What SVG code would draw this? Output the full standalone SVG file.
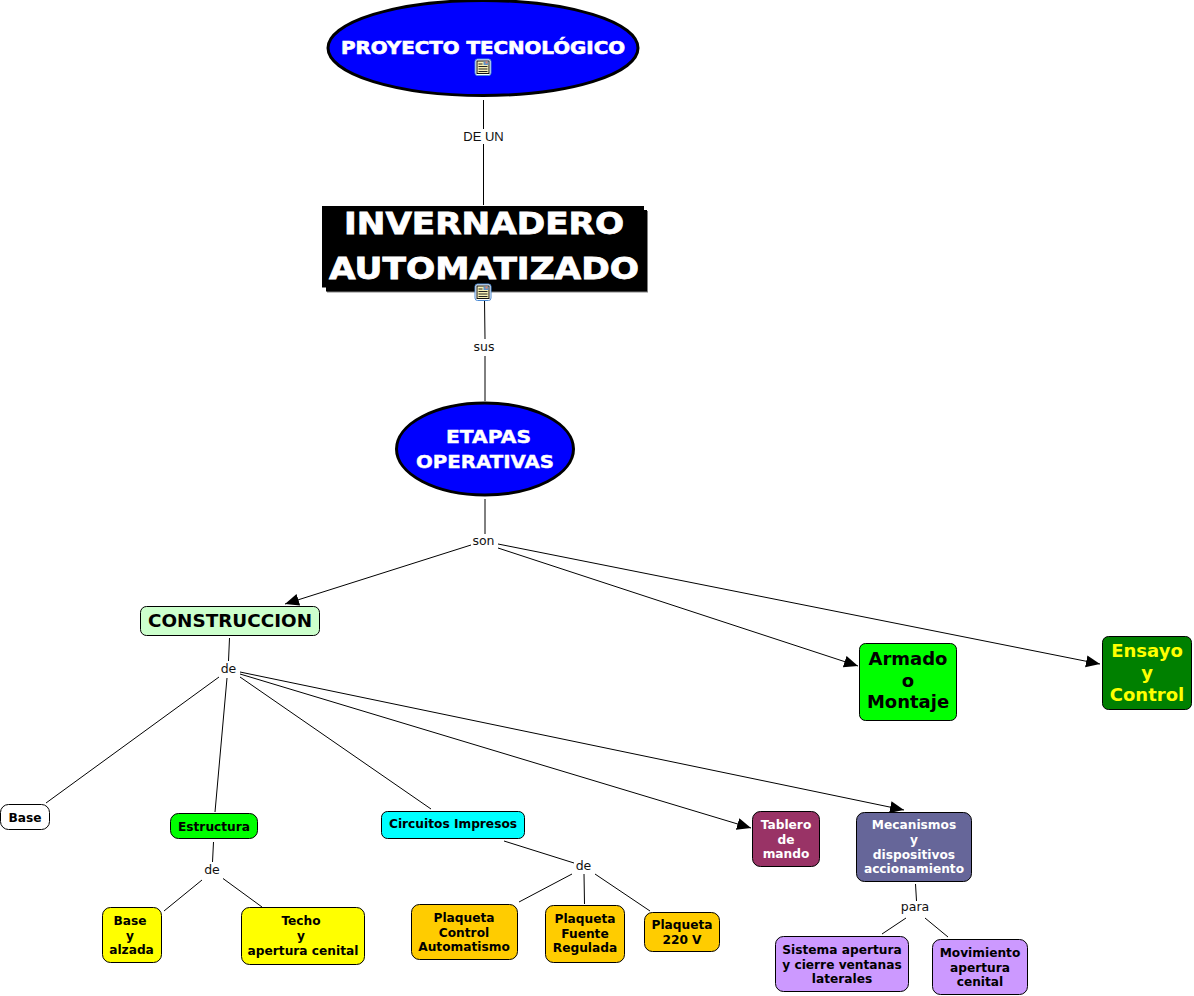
<svg xmlns="http://www.w3.org/2000/svg" width="1194" height="996" viewBox="0 0 1194 996">
<style>
text{font-family:"DejaVu Sans",Verdana,sans-serif;text-anchor:middle}
.b{font-weight:bold}
.s{font-size:12.2px}
.n{stroke:#000;stroke-width:1}
.l{font-size:12.5px;fill:#111}
#links line{stroke:#000;stroke-width:1;fill:none}
</style>
<defs>
<marker id="arr" markerUnits="userSpaceOnUse" markerWidth="16" markerHeight="14" refX="14" refY="6" orient="auto"><path d="M0 0L14 6L0 12Z" fill="#000"/></marker>
<g id="doc"><rect x="0.500" y="0.500" width="16" height="16.500" rx="2.500" fill="#fff" stroke="#4a8ad4"/><rect x="2.500" y="2.500" width="12" height="12.500" fill="#f7f0b4" stroke="#111"/><path d="M4 5.500H8M4 8H13M4 10.500H13M4 13H13" stroke="#222" stroke-width="1"/><rect x="9" y="3" width="5" height="3.500" fill="#5f93c9"/><rect x="11" y="3" width="2" height="2" fill="#e9866a"/></g>
</defs>
<g id="links">
<line x1="483.500" y1="100" x2="483.500" y2="129"/><line x1="483.500" y1="144" x2="483.500" y2="205"/>
<line x1="484.500" y1="300" x2="485" y2="339"/><line x1="485" y1="356" x2="485" y2="401"/>
<line x1="485" y1="499" x2="485" y2="534"/>
<line x1="471" y1="545" x2="285" y2="604" marker-end="url(#arr)"/>
<line x1="498" y1="548" x2="858" y2="666" marker-end="url(#arr)"/>
<line x1="498" y1="544" x2="1100" y2="664" marker-end="url(#arr)"/>
<line x1="229.500" y1="638" x2="228.500" y2="661"/>
<line x1="219" y1="677" x2="46" y2="803"/>
<line x1="227" y1="678" x2="215" y2="812"/>
<line x1="240" y1="677" x2="431" y2="809"/>
<line x1="240" y1="674" x2="751" y2="828" marker-end="url(#arr)"/>
<line x1="240" y1="672" x2="904" y2="810" marker-end="url(#arr)"/>
<line x1="213.500" y1="842" x2="212.500" y2="862"/>
<line x1="202" y1="880" x2="164" y2="911"/>
<line x1="223" y1="878.500" x2="262" y2="907"/>
<line x1="504" y1="841" x2="574" y2="863"/>
<line x1="572" y1="874" x2="519" y2="902"/>
<line x1="584" y1="874" x2="584.500" y2="904"/>
<line x1="595" y1="874" x2="650" y2="911"/>
<line x1="915.500" y1="884" x2="916.500" y2="901"/>
<line x1="906" y1="918" x2="882" y2="934"/>
<line x1="925" y1="918" x2="948" y2="937"/>
</g>
<g class="lbls">
<text class="l" x="483.500" y="141" style="font-family:'Liberation Sans',Arial,sans-serif;font-size:13px">DE UN</text>
<text class="l" x="484" y="351">sus</text>
<text class="l" x="483.500" y="545">son</text>
<text class="l" x="228.500" y="673">de</text>
<text class="l" x="212" y="874">de</text>
<text class="l" x="583.500" y="870">de</text>
<text class="l" x="915" y="911">para</text>
</g>
<g id="proyecto"><ellipse cx="483" cy="48" rx="155" ry="47.500" fill="#0000ff" stroke="#000" stroke-width="3"/>
<text class="b" x="483" y="54" font-size="18" fill="#fff" stroke="#fff" stroke-width=".7" textLength="284" lengthAdjust="spacingAndGlyphs">PROYECTO TECNOLÓGICO</text><use href="#doc" x="474.500" y="58.500"/></g>
<g id="invernadero"><rect x="327" y="211" width="321" height="81.500" fill="#808080"/><rect x="326" y="210" width="321" height="81.500" fill="#000"/><rect x="322" y="206" width="322" height="81.500" fill="#000"/>
<text class="b" x="484" y="234" font-size="30" fill="#fff" stroke="#fff" stroke-width=".8" textLength="280" lengthAdjust="spacingAndGlyphs">INVERNADERO</text>
<text class="b" x="484" y="279" font-size="30" fill="#fff" stroke="#fff" stroke-width=".8" textLength="310" lengthAdjust="spacingAndGlyphs">AUTOMATIZADO</text><use href="#doc" x="474.500" y="283.500"/></g>
<g id="etapas"><ellipse cx="485" cy="449" rx="88.500" ry="46" fill="#0000ff" stroke="#000" stroke-width="3"/>
<text class="b" x="488.500" y="443" font-size="17" fill="#fff" stroke="#fff" stroke-width=".4" textLength="85" lengthAdjust="spacingAndGlyphs">ETAPAS</text><text class="b" x="485" y="468" font-size="17" fill="#fff" stroke="#fff" stroke-width=".4" textLength="138" lengthAdjust="spacingAndGlyphs">OPERATIVAS</text></g>
<g id="construccion"><rect class="n" x="140.500" y="606.500" width="179" height="29" rx="6" fill="#ccffcc"/><text class="b" x="230" y="627" font-size="18" textLength="164" lengthAdjust="spacingAndGlyphs">CONSTRUCCION</text></g>
<g id="armado"><rect class="n" x="859.500" y="643.500" width="97" height="77" rx="6" fill="#00ff00"/>
<text class="b" x="908" y="665" font-size="18">Armado</text><text class="b" x="908" y="687" font-size="18">o</text><text class="b" x="908" y="708" font-size="18">Montaje</text></g>
<g id="ensayo"><rect class="n" x="1102.500" y="636.500" width="89" height="73" rx="6" fill="#008000"/>
<text class="b" x="1147" y="657" font-size="18" fill="#ffff00">Ensayo</text><text class="b" x="1147" y="679" font-size="18" fill="#ffff00">y</text><text class="b" x="1147" y="701" font-size="18" fill="#ffff00">Control</text></g>
<g id="base"><rect class="n" x="0.500" y="804.500" width="49" height="25" rx="8" fill="#fff"/><text class="b s" x="25" y="822">Base</text></g>
<g id="estructura"><rect class="n" x="170.500" y="813.500" width="87" height="25" rx="8" fill="#00ff00"/><text class="b s" x="214" y="831">Estructura</text></g>
<g id="circuitos"><rect class="n" x="381.500" y="811.500" width="143" height="27" rx="6" fill="#00ffff"/><text class="b s" x="453" y="828">Circuitos Impresos</text></g>
<g id="tablero"><rect class="n" x="752.500" y="811.500" width="67" height="55" rx="8" fill="#993366"/>
<text class="b s" x="786" y="829" fill="#fff">Tablero</text><text class="b s" x="786" y="844" fill="#fff">de</text><text class="b s" x="786" y="858" fill="#fff">mando</text></g>
<g id="mecanismos"><rect class="n" x="856.500" y="812.500" width="115" height="69" rx="8" fill="#666699"/>
<text class="b s" x="914" y="829" fill="#fff">Mecanismos</text><text class="b s" x="914" y="844" fill="#fff">y</text><text class="b s" x="914" y="859" fill="#fff">dispositivos</text><text class="b s" x="914" y="873" fill="#fff">accionamiento</text></g>
<g id="basey"><rect class="n" x="102.500" y="907.500" width="59" height="55" rx="8" fill="#ffff00"/>
<text class="b s" x="130" y="925">Base</text><text class="b s" x="130" y="940">y</text><text class="b s" x="131.500" y="954">alzada</text></g>
<g id="techo"><rect class="n" x="241.500" y="907.500" width="123" height="57" rx="8" fill="#ffff00"/>
<text class="b s" x="301" y="925">Techo</text><text class="b s" x="301" y="940">y</text><text class="b s" x="303" y="955">apertura cenital</text></g>
<g id="pcontrol"><rect class="n" x="411.500" y="904.500" width="106" height="55" rx="8" fill="#ffcc00"/>
<text class="b s" x="464" y="922">Plaqueta</text><text class="b s" x="464" y="937">Control</text><text class="b s" x="464" y="951">Automatismo</text></g>
<g id="pfuente"><rect class="n" x="545.500" y="905.500" width="79" height="57" rx="8" fill="#ffcc00"/>
<text class="b s" x="585" y="923">Plaqueta</text><text class="b s" x="585" y="938">Fuente</text><text class="b s" x="585" y="952">Regulada</text></g>
<g id="p220"><rect class="n" x="644.500" y="912.500" width="75" height="39" rx="8" fill="#ffcc00"/>
<text class="b s" x="682" y="929">Plaqueta</text><text class="b s" x="682" y="944">220 V</text></g>
<g id="sistema"><rect class="n" x="775.500" y="936.500" width="133" height="55" rx="8" fill="#cc99ff"/>
<text class="b s" x="842" y="954">Sistema apertura</text><text class="b s" x="842" y="969">y cierre ventanas</text><text class="b s" x="842" y="983">laterales</text></g>
<g id="movimiento"><rect class="n" x="932.500" y="939.500" width="95" height="55" rx="8" fill="#cc99ff"/>
<text class="b s" x="980" y="957">Movimiento</text><text class="b s" x="980" y="972">apertura</text><text class="b s" x="980" y="986">cenital</text></g>
</svg>
